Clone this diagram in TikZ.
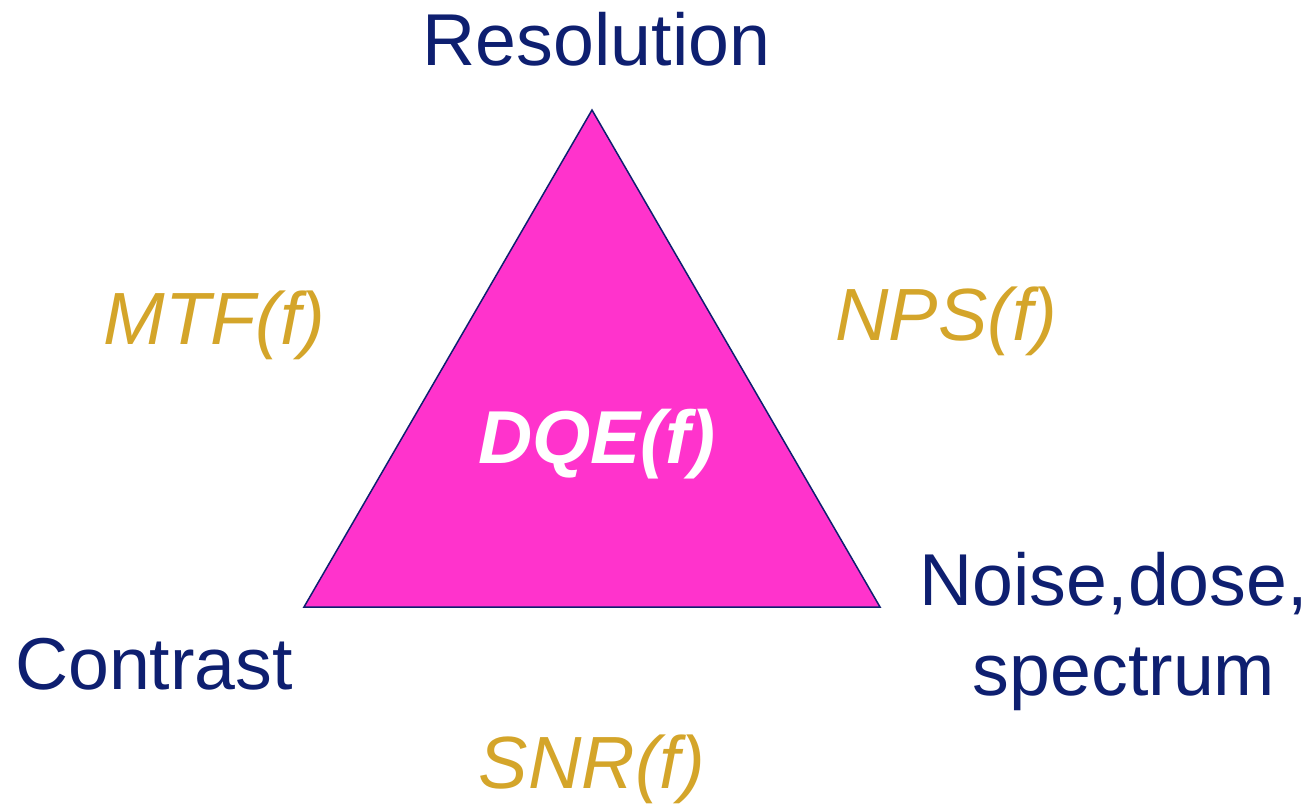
\documentclass[tikz,border=0pt]{standalone}
\usepackage{fontspec}
\setmainfont{Liberation Sans}
\definecolor{navy}{HTML}{0E1F70}
\definecolor{gold}{HTML}{D4A52A}
\definecolor{magenta}{HTML}{FF33CC}
\begin{document}
\begin{tikzpicture}[x=1pt,y=-1pt,
  corner/.style={text=navy,font=\fontsize{73.5}{85}\selectfont,inner sep=0pt,anchor=base,align=center},
  metric/.style={text=gold,font=\fontsize{74}{85}\selectfont\itshape,inner sep=0pt,anchor=base},
  center/.style={text=white,font=\fontsize{75}{85}\selectfont\bfseries\itshape,inner sep=0pt,anchor=base}]
\useasboundingbox (0,0) rectangle (1315,807);
\coordinate (top) at (592,110);
\coordinate (bl) at (304,607);
\coordinate (br) at (880,607);
\draw[navy,line width=1.5pt,fill=magenta,line join=miter] (top) -- (bl) -- (br) -- cycle;
\node[corner] (res) at (596.5,65) {Resolution};
\node[corner] (con) at (154,689) {Contrast};
\node[corner] (noise) at (1124,695) {Noise,dose,\hphantom{\ }\\[5pt]spectrum};
\node[metric] (mtf) at (214.5,344) {MTF(f)};
\node[metric] (nps) at (946.5,340) {NPS(f)};
\node[metric] (snr) at (592,788) {SNR(f)};
\node[center] (dqe) at (597,463) {DQE(f)};
\end{tikzpicture}
\end{document}
